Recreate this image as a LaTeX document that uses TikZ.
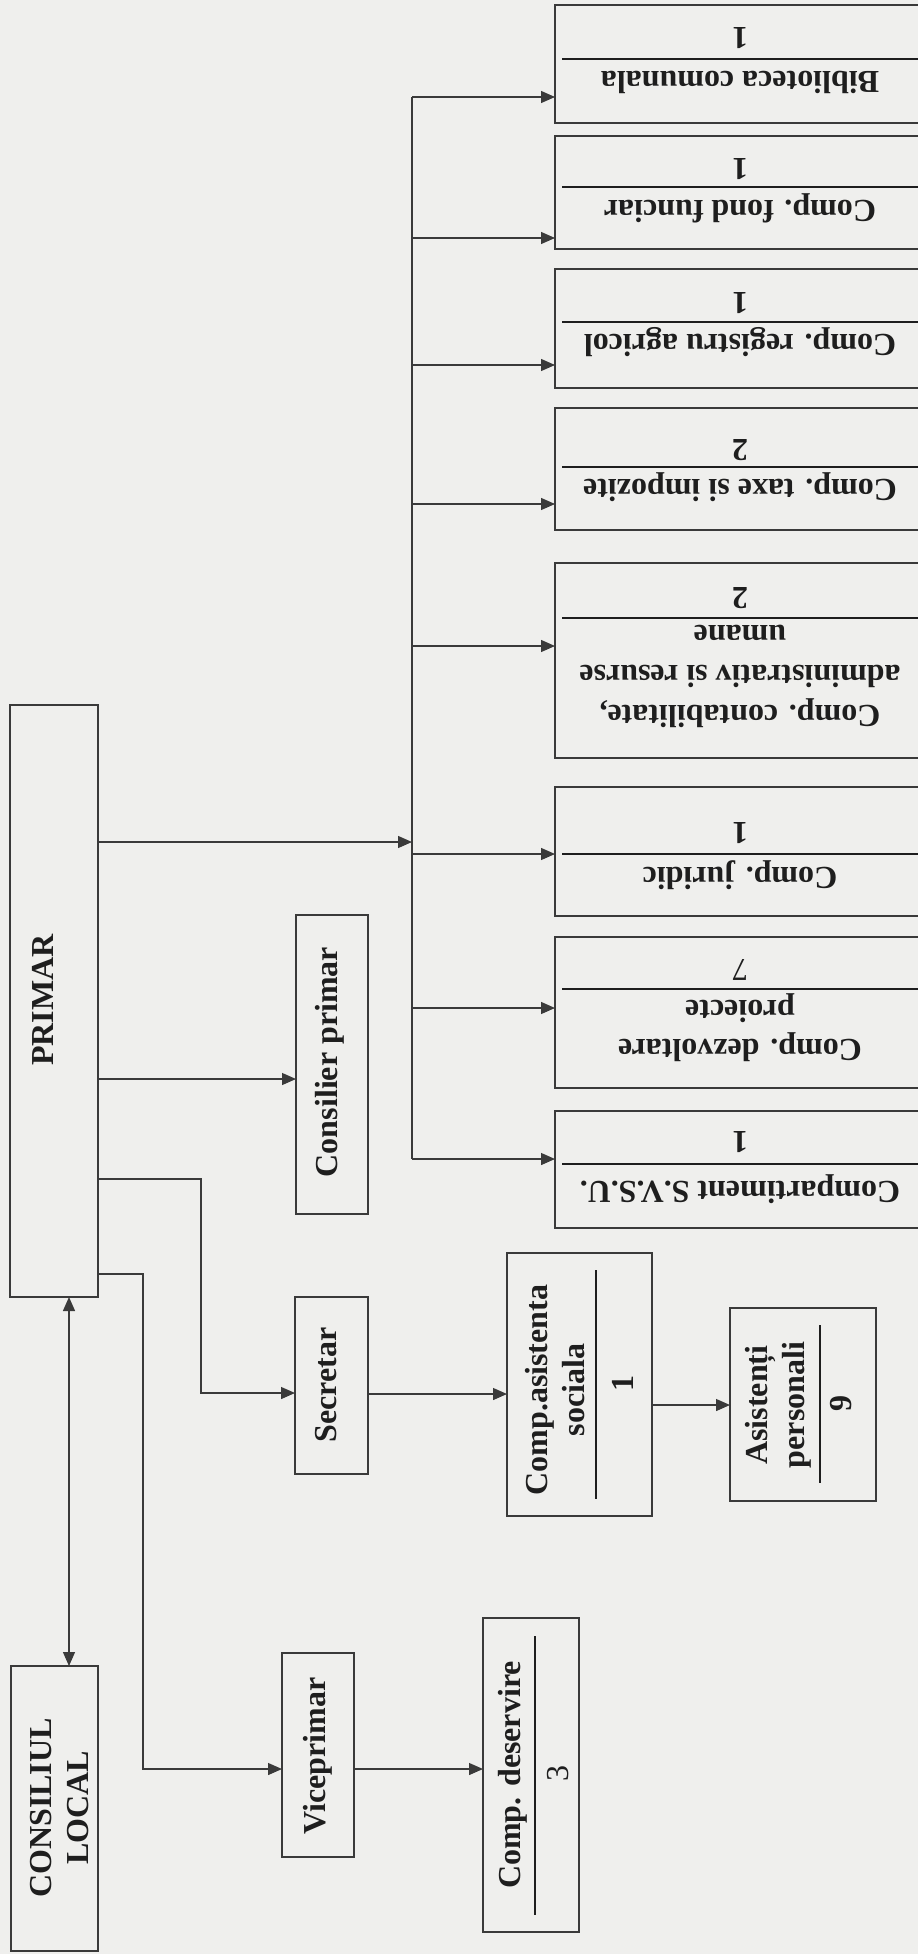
\documentclass[tikz,border=0pt]{standalone}
\usepackage{fontspec}
\setmainfont{Liberation Serif}
\usetikzlibrary{arrows.meta}
\definecolor{paper}{RGB}{239,239,237}
\definecolor{ink}{RGB}{58,58,58}
\definecolor{txt}{RGB}{30,30,30}
\begin{document}
\begin{tikzpicture}[x=1pt,y=-1pt,
  box/.style={draw=ink, line width=1.3pt, inner sep=0pt, outer sep=0pt, rectangle},
  conn/.style={draw=ink, line width=1.3pt},
  arr/.style={conn, -{Triangle[length=14pt,width=12pt]}},
  divl/.style={draw=txt, line width=2.8pt},
  divthin/.style={draw=txt, line width=1.8pt},
  lbl/.style={text=txt, font=\fontsize{32}{37}\selectfont\bfseries, align=center, inner sep=0pt},
  num/.style={text=txt, font=\fontsize{32}{37}\selectfont, align=center, inner sep=0pt},
  rbox/.style={box, minimum width=371pt},
]
\useasboundingbox (0,0) rectangle (918,1954);
\fill[paper] (0,0) rectangle (918,1954);
\clip (0,0) rectangle (918,1954);

% left boxes
\node[box, minimum width=87pt, minimum height=285pt] (consiliu) at (54.5,1808.5) {};
\node[box, minimum width=88pt, minimum height=592pt] (primar) at (54,1001) {};
\node[box, minimum width=72pt, minimum height=299pt] (consilier) at (332,1064.5) {};
\node[box, minimum width=73pt, minimum height=177pt] (secretar) at (331.5,1385.5) {};
\node[box, minimum width=72pt, minimum height=204pt] (vice) at (318,1755) {};
\node[box, minimum width=145pt, minimum height=263pt] (asist) at (579.5,1384.5) {};
\node[box, minimum width=146pt, minimum height=193pt] (asistenti) at (803,1404.5) {};
\node[box, minimum width=96pt, minimum height=314pt] (deserv) at (531,1775) {};

% right column boxes
\node[rbox, minimum height=118pt] (bib) at (740.5,64) {};
\node[rbox, minimum height=113pt] (fond) at (740.5,192.5) {};
\node[rbox, minimum height=119pt] (reg) at (740.5,328.5) {};
\node[rbox, minimum height=122pt] (taxe) at (740.5,469) {};
\node[rbox, minimum height=195pt] (contab) at (740.5,660.5) {};
\node[rbox, minimum height=129pt] (jurid) at (740.5,851.5) {};
\node[rbox, minimum height=151pt] (dezv) at (740.5,1012.5) {};
\node[rbox, minimum height=117pt] (svsu) at (740.5,1169.5) {};

% left texts
\node[lbl, rotate=90] (tConsiliu) at (59.5,1808) {CONSILIUL\\LOCAL};
\node[lbl, rotate=90] (tPrimar) at (43,1000) {PRIMAR};
\node[lbl, rotate=90] (tConsilier) at (330,1062) {Consilier primar};
\node[lbl, rotate=90] (tSecretar) at (326,1385) {Secretar};
\node[lbl, rotate=90] (tVice) at (318,1756) {Viceprimar};
\node[lbl, rotate=90] (tAsist) at (555,1390) {Comp.asistenta\\sociala};
\node[lbl, rotate=90] (nAsist) at (623,1383) {1};
\node[lbl, rotate=90] (tAsistenti) at (778.5,1405) {Asistenți\\personali};
\node[lbl, rotate=90] (nAsistenti) at (841,1403) {9};
\node[lbl, rotate=90] (tDeserv) at (513,1775) {Comp. deservire};
\node[num, rotate=90] (nDeserv) at (558,1773) {3};

\draw[divl] (596,1270) -- (596,1499);
\draw[divl] (820,1325) -- (820,1483);
\draw[divl] (535,1636) -- (535,1915);

% right texts (upside down)
\node[lbl, rotate=180] (tBib) at (740,82) {Biblioteca comunala};
\node[lbl, rotate=180] (nBib) at (740,38) {1};
\node[lbl, rotate=180] (tFond) at (740,208) {Comp. fond funciar};
\node[lbl, rotate=180] (nFond) at (740,169) {1};
\node[lbl, rotate=180] (tReg) at (740,342) {Comp. registru agricol};
\node[lbl, rotate=180] (nReg) at (740,303) {1};
\node[lbl, rotate=180] (tTaxe) at (740,487) {Comp. taxe si impozite};
\node[lbl, rotate=180] (nTaxe) at (740,450) {2};
\node[lbl, rotate=180, font=\fontsize{32}{40}\selectfont\bfseries] (tContab) at (740,676) {Comp. contabilitate,\\administrativ si resurse\\umane};
\node[lbl, rotate=180] (nContab) at (740,598) {2};
\node[lbl, rotate=180] (tJurid) at (740,875) {Comp. juridic};
\node[lbl, rotate=180] (nJurid) at (740,833) {1};
\node[lbl, rotate=180, font=\fontsize{32}{39}\selectfont\bfseries] (tDezv) at (740,1028) {Comp. dezvoltare\\proiecte};
\node[num, rotate=180] (nDezv) at (740,970) {7};
\node[lbl, rotate=180] (tSvsu) at (740,1189) {Compartiment S.V.S.U.};
\node[lbl, rotate=180] (nSvsu) at (740,1142) {1};

\draw[divl] (562,59) -- (930,59);
\draw[divl] (562,187) -- (930,187);
\draw[divl] (562,322) -- (930,322);
\draw[divl] (562,467) -- (930,467);
\draw[divl] (562,618) -- (930,618);
\draw[divl] (562,854) -- (930,854);
\draw[divthin] (562,989) -- (930,989);
\draw[divl] (562,1164) -- (930,1164);

% connectors
\draw[conn, {Triangle[length=14pt,width=12pt]}-{Triangle[length=14pt,width=12pt]}] ([xshift=15pt]primar.south) -- ([xshift=14.5pt]consiliu.north);

\coordinate (busIn) at (412,842);
\coordinate (busTop) at (412,97);
\coordinate (busBot) at (412,1159);
\draw[conn] (busTop) -- (busBot);
\draw[arr] (primar.east |- busIn) -- (busIn);

\coordinate (b1) at (412,97);
\coordinate (b2) at (412,238);
\coordinate (b3) at (412,365);
\coordinate (b4) at (412,504);
\coordinate (b5) at (412,646);
\coordinate (b6) at (412,854);
\coordinate (b7) at (412,1008);
\coordinate (b8) at (412,1159);
\draw[arr] (b1) -- (bib.west |- b1);
\draw[arr] (b2) -- (fond.west |- b2);
\draw[arr] (b3) -- (reg.west |- b3);
\draw[arr] (b4) -- (taxe.west |- b4);
\draw[arr] (b5) -- (contab.west |- b5);
\draw[arr] (b6) -- (jurid.west |- b6);
\draw[arr] (b7) -- (dezv.west |- b7);
\draw[arr] (b8) -- (svsu.west |- b8);

\coordinate (cY) at (0,1079);
\draw[arr] (primar.east |- cY) -- (consilier.west |- cY);

\coordinate (sStart) at (0,1179);
\coordinate (sT) at (201,1393);
\draw[arr] (primar.east |- sStart) -| (sT) -- (secretar.west |- sT);

\coordinate (vStart) at (0,1274);
\coordinate (vT) at (143,1769);
\draw[arr] (primar.east |- vStart) -| (vT) -- (vice.west |- vT);
\draw[arr] (vice.east |- vT) -- (deserv.west |- vT);

\coordinate (aY) at (0,1394);
\draw[arr] (secretar.east |- aY) -- (asist.west |- aY);
\coordinate (pY) at (0,1405);
\draw[arr] (asist.east |- pY) -- (asistenti.west |- pY);
\end{tikzpicture}
\end{document}
